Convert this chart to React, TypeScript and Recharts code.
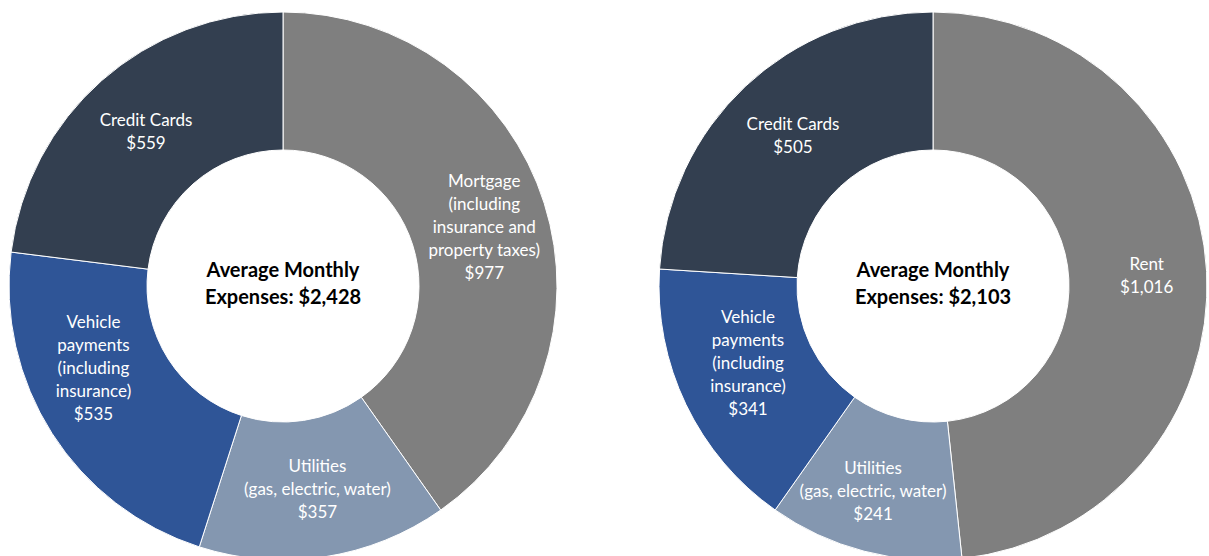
// Two donut charts: average monthly expenses, homeowners vs renters.
// Slices run clockwise from 12 o'clock, labels sit near the ring's mid radius.
import { PieChart, Pie, Cell, Label } from 'recharts'

const leftCategories = ['Mortgage\n(including\ninsurance and\nproperty taxes)', 'Utilities\n(gas, electric, water)', 'Vehicle\npayments\n(including\ninsurance)', 'Credit Cards']
const leftValues = [977, 357, 535, 559]
const leftTotal = '$2,428'

const rightCategories = ['Rent', 'Utilities\n(gas, electric, water)', 'Vehicle\npayments\n(including\ninsurance)', 'Credit Cards']
const rightValues = [1016, 241, 341, 505]
const rightTotal = '$2,103'

const centerTitle = 'Average Monthly'
const centerPrefix = 'Expenses: '

// Office palette: gray, blue-gray, blue, dark slate
const SLICE_COLORS = ['#7F7F7F', '#8497B0', '#2F5597', '#333F50']

// Excel nudges a few labels off the exact mid angle (degrees clockwise) / mid radius
const LEFT_LABEL_TURN = [1, -1, 9.5, 0]
const LEFT_LABEL_R = [210, 205, 206, 207]
const RIGHT_LABEL_TURN = [0, 1.8, 3.3, 0.4]
const RIGHT_LABEL_R = [214, 213, 200, 206]

const FONT = 'Lato, "Open Sans", sans-serif'
const RADIAN = Math.PI / 180
const LINE_H = 23
const CY = 286
const LEFT_CX = 283
const RIGHT_CX = 933

const leftData = leftCategories.map((name, i) => ({ name, value: leftValues[i] }))
const rightData = rightCategories.map((name, i) => ({ name, value: rightValues[i] }))

const fmt = (v: number) => '$' + v.toLocaleString('en-US')

function makeSliceLabel(turns: number[], radii: number[]) {
  return (props: any) => {
    const { cx, cy, midAngle, payload, index } = props
    const r = radii[index]
    const a = midAngle - turns[index]
    const x = cx + r * Math.cos(-a * RADIAN)
    const y = cy + r * Math.sin(-a * RADIAN)
    const lines = [...String(payload.name).split('\n'), fmt(payload.value)]
    const top = y - ((lines.length - 1) * LINE_H) / 2
    return (
      <text x={x} y={top} fill="#FFFFFF" textAnchor="middle" dominantBaseline="central" fontFamily={FONT} fontSize={17}>
        {lines.map((l, i) => (
          <tspan key={i} x={x} y={top + i * LINE_H}>{l}</tspan>
        ))}
      </text>
    )
  }
}

function centerLabel(total: string, cx: number, cy: number) {
  return () => (
    <text x={cx} textAnchor="middle" dominantBaseline="central" fontFamily={FONT} fontSize={20} fontWeight={700} fill="#000000">
      <tspan x={cx} y={cy - 17}>{centerTitle}</tspan>
      <tspan x={cx} y={cy + 10}>{centerPrefix + total}</tspan>
    </text>
  )
}

export default function App() {
  return (
    <div style={{ position: 'absolute', left: 0, top: 0, width: 1209, height: 556, background: '#FFFFFF', overflow: 'hidden' }}>
      <PieChart width={1209} height={556} margin={{ top: 0, right: 0, bottom: 0, left: 0 }}>
        <Pie
          data={leftData}
          dataKey="value"
          cx={LEFT_CX}
          cy={CY}
          innerRadius={136}
          outerRadius={274}
          startAngle={90}
          endAngle={-270}
          stroke="#FFFFFF"
          strokeWidth={1}
          label={makeSliceLabel(LEFT_LABEL_TURN, LEFT_LABEL_R)}
          labelLine={false}
          isAnimationActive={false}
        >
          {leftData.map((d, i) => <Cell key={d.name} fill={SLICE_COLORS[i]} />)}
          <Label position="center" content={centerLabel(leftTotal, LEFT_CX, CY)} />
        </Pie>
        <Pie
          data={rightData}
          dataKey="value"
          cx={RIGHT_CX}
          cy={CY}
          innerRadius={136}
          outerRadius={274}
          startAngle={90}
          endAngle={-270}
          stroke="#FFFFFF"
          strokeWidth={1}
          label={makeSliceLabel(RIGHT_LABEL_TURN, RIGHT_LABEL_R)}
          labelLine={false}
          isAnimationActive={false}
        >
          {rightData.map((d, i) => <Cell key={d.name} fill={SLICE_COLORS[i]} />)}
          <Label position="center" content={centerLabel(rightTotal, RIGHT_CX, CY)} />
        </Pie>
      </PieChart>
    </div>
  )
}
